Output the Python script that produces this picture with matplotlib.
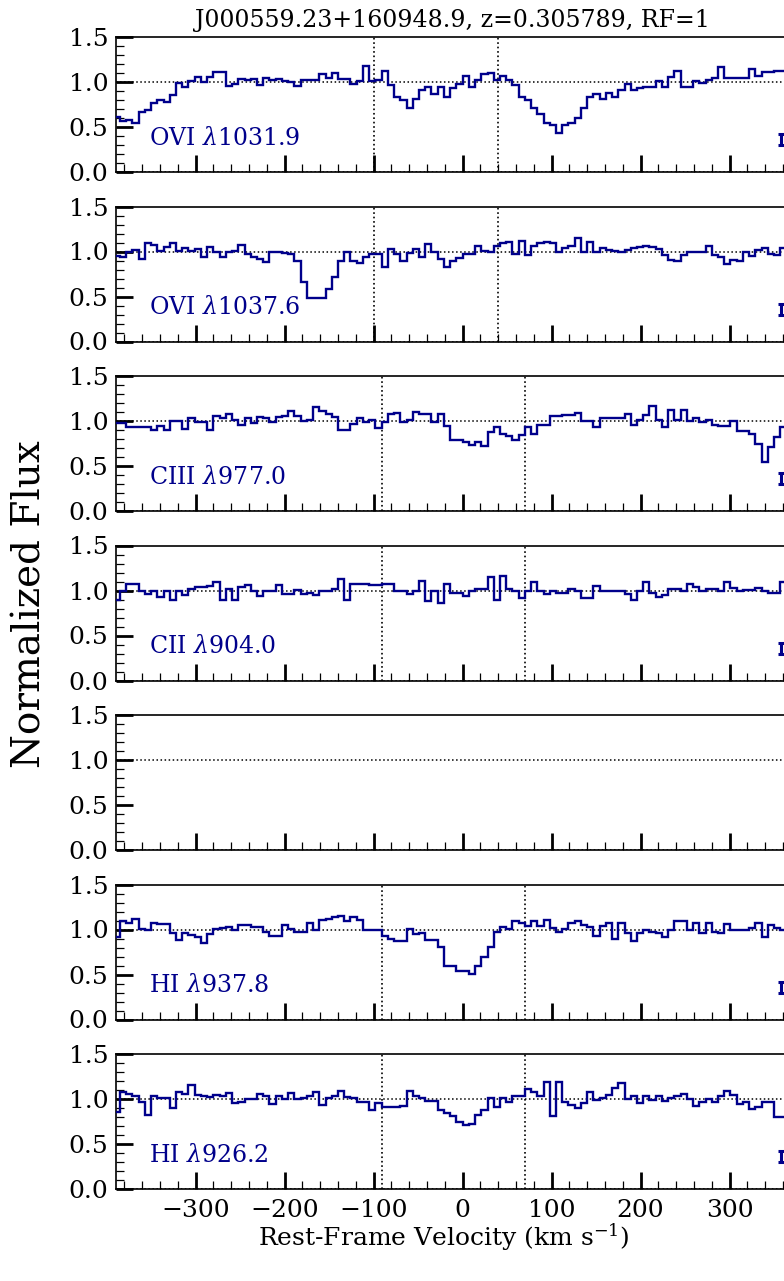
import numpy as np
import matplotlib
matplotlib.use("Agg")
import matplotlib.pyplot as plt
from matplotlib.ticker import MultipleLocator

plt.rcParams['font.family'] = ['DejaVu Serif']
plt.rcParams['mathtext.fontset'] = 'dejavuserif'

title = "J000559.23+160948.9, z=0.305789, RF=1"

# velocity bin edges (km/s) shared by all transitions
vel_edges = np.arange(-392.0, 372.0, 7.0)

flux_ovi1031 = [
    0.61, 0.57, 0.58, 0.54, 0.67, 0.69, 0.77, 0.80, 0.78, 0.86,
    0.99, 0.94, 1.01, 1.06, 1.00, 1.06, 1.11, 1.11, 0.96, 0.98,
    1.03, 1.02, 1.03, 0.97, 1.04, 1.02, 1.03, 1.01, 1.00, 0.96,
    1.02, 1.02, 1.02, 1.09, 1.05, 1.10, 1.03, 1.03, 0.98, 1.01,
    1.18, 1.01, 1.02, 1.12, 0.97, 0.83, 0.80, 0.71, 0.81, 0.91,
    0.94, 0.87, 0.94, 0.83, 0.93, 0.98, 1.07, 0.94, 1.02, 1.09,
    1.10, 1.02, 1.07, 1.02, 0.97, 0.83, 0.80, 0.71, 0.64, 0.54,
    0.52, 0.43, 0.52, 0.54, 0.60, 0.71, 0.83, 0.87, 0.81, 0.88,
    0.83, 0.91, 0.98, 0.91, 0.93, 0.94, 0.95, 1.01, 0.95, 1.06,
    1.12, 0.95, 0.95, 1.01, 0.99, 1.02, 1.05, 1.17, 1.04, 1.04,
    1.05, 1.05, 1.14, 1.07, 1.11, 1.11, 1.12, 1.12, 1.11,
]

flux_ovi1037 = [
    0.95, 0.94, 0.99, 1.02, 0.92, 1.09, 1.07, 1.01, 1.05, 1.10,
    1.01, 1.04, 1.01, 1.03, 0.94, 1.05, 1.00, 0.94, 1.00, 1.01,
    1.07, 0.97, 0.94, 0.92, 0.88, 0.99, 1.00, 0.98, 0.97, 0.90,
    0.66, 0.48, 0.48, 0.48, 0.58, 0.72, 0.89, 0.99, 0.89, 0.87,
    0.94, 0.97, 0.97, 0.83, 1.03, 0.97, 0.89, 0.98, 1.03, 0.94,
    1.08, 1.00, 0.92, 0.83, 0.89, 0.93, 0.97, 0.97, 1.06, 1.01,
    0.99, 1.06, 1.09, 1.11, 0.97, 1.12, 0.96, 1.06, 1.09, 1.11,
    1.10, 0.99, 1.04, 1.06, 1.15, 1.00, 1.11, 0.99, 1.04, 1.02,
    1.01, 0.99, 1.02, 1.04, 1.05, 1.06, 1.05, 1.03, 0.96, 0.91,
    0.89, 0.96, 1.00, 1.00, 0.99, 1.06, 0.96, 0.94, 0.86, 0.91,
    0.89, 1.00, 0.95, 1.02, 1.04, 0.97, 0.96, 1.04, 1.04,
]

flux_ciii977 = [
    0.98, 0.98, 0.93, 0.93, 0.93, 0.93, 0.90, 0.94, 0.90, 1.00,
    1.00, 0.91, 1.03, 0.99, 0.99, 0.90, 1.06, 1.03, 1.08, 1.01,
    0.96, 1.03, 0.98, 1.05, 1.03, 0.99, 1.04, 1.06, 1.11, 1.06,
    1.00, 1.01, 1.16, 1.11, 1.08, 1.04, 0.90, 0.90, 0.97, 1.03,
    0.99, 1.01, 0.92, 0.99, 1.08, 1.09, 0.99, 1.01, 1.10, 1.08,
    1.08, 0.99, 1.08, 0.94, 0.79, 0.79, 0.77, 0.73, 0.77, 0.72,
    0.88, 0.93, 0.86, 0.83, 0.79, 0.84, 0.93, 0.86, 0.96, 0.96,
    1.06, 1.06, 1.07, 1.07, 1.09, 1.00, 1.00, 0.93, 1.03, 1.03,
    1.03, 1.03, 1.08, 0.96, 1.01, 1.07, 1.17, 1.01, 0.93, 1.12,
    1.01, 1.12, 1.00, 1.03, 0.99, 1.01, 0.96, 0.94, 0.94, 1.00,
    0.89, 0.89, 0.86, 0.75, 0.55, 0.71, 0.82, 0.93, 0.95,
]

flux_cii904 = [
    0.90, 1.00, 1.07, 1.07, 1.00, 0.96, 0.99, 0.93, 1.00, 0.89,
    1.00, 0.95, 1.02, 1.04, 1.04, 1.05, 1.10, 0.90, 1.02, 0.90,
    1.04, 1.06, 1.00, 0.94, 0.99, 0.99, 1.06, 0.96, 0.96, 1.01,
    0.96, 0.97, 0.95, 1.00, 1.00, 1.02, 1.13, 0.90, 1.07, 1.07,
    1.07, 1.06, 1.06, 1.07, 1.07, 1.00, 1.00, 0.96, 0.99, 1.11,
    0.88, 0.99, 0.86, 1.07, 0.97, 0.97, 0.94, 1.00, 1.02, 1.02,
    1.15, 0.90, 1.16, 1.02, 0.99, 0.92, 0.99, 1.09, 0.99, 0.96,
    1.00, 0.97, 0.97, 1.02, 1.00, 0.92, 0.92, 1.05, 0.99, 0.99,
    0.99, 0.99, 0.96, 0.89, 1.00, 1.10, 0.97, 0.93, 0.95, 1.02,
    1.02, 0.99, 1.07, 1.04, 0.99, 1.02, 1.02, 0.99, 1.10, 1.03,
    0.99, 1.01, 1.01, 1.03, 1.00, 0.97, 0.97, 1.10, 1.02,
]

flux_hi937 = [
    0.92, 1.10, 1.07, 1.12, 1.01, 1.00, 1.07, 1.06, 1.06, 0.96,
    0.88, 0.96, 0.94, 0.92, 0.85, 0.95, 1.01, 1.02, 1.03, 0.99,
    1.05, 1.05, 1.03, 1.03, 0.97, 0.93, 0.93, 1.05, 1.01, 0.97,
    0.97, 1.07, 0.99, 1.11, 1.12, 1.14, 1.15, 1.10, 1.14, 1.11,
    0.99, 1.00, 1.00, 0.93, 0.90, 0.87, 0.87, 1.01, 0.95, 0.96,
    0.88, 0.88, 0.81, 0.59, 0.59, 0.54, 0.54, 0.51, 0.59, 0.70,
    0.81, 0.97, 1.03, 1.01, 1.10, 1.07, 1.04, 1.10, 1.04, 1.11,
    1.02, 0.97, 1.01, 1.07, 1.10, 1.05, 1.03, 0.93, 1.04, 1.07,
    0.90, 1.07, 0.96, 0.87, 0.96, 0.99, 0.97, 0.96, 0.92, 0.99,
    1.09, 1.09, 1.00, 1.07, 0.96, 1.07, 0.97, 0.96, 1.06, 1.00,
    1.00, 0.99, 1.02, 1.07, 0.92, 1.05, 1.02, 1.00, 1.00,
]

flux_hi926 = [
    0.86, 1.08, 1.06, 1.03, 0.97, 0.82, 1.03, 1.01, 1.01, 0.90,
    1.08, 1.06, 1.16, 1.04, 1.03, 1.02, 1.04, 1.03, 1.07, 0.96,
    0.97, 1.00, 1.00, 1.06, 1.03, 0.94, 1.03, 1.00, 1.07, 1.00,
    1.01, 1.03, 1.08, 0.93, 1.01, 1.03, 1.09, 1.02, 1.01, 0.97,
    0.97, 0.88, 0.96, 0.91, 0.91, 0.91, 0.92, 1.09, 1.03, 1.01,
    0.98, 0.98, 0.88, 0.84, 0.81, 0.75, 0.71, 0.72, 0.82, 0.88,
    1.01, 0.91, 1.01, 0.97, 1.03, 1.03, 1.11, 1.08, 1.03, 1.19,
    0.81, 1.19, 0.97, 0.93, 0.90, 0.96, 1.08, 0.99, 1.01, 1.04,
    1.12, 1.18, 1.00, 1.03, 0.96, 1.03, 0.99, 1.03, 0.98, 1.01,
    1.03, 1.06, 1.00, 0.92, 0.97, 1.00, 0.97, 1.03, 1.09, 1.04,
    0.95, 0.97, 0.89, 0.91, 0.97, 0.97, 0.80, 0.80, 0.85,
]

panel_labels = [
    r"OVI $\lambda$1031.9",
    r"OVI $\lambda$1037.6",
    r"CIII $\lambda$977.0",
    r"CII $\lambda$904.0",
    None,
    r"HI $\lambda$937.8",
    r"HI $\lambda$926.2",
]
panel_flux = [flux_ovi1031, flux_ovi1037, flux_ciii977, flux_cii904,
              None, flux_hi937, flux_hi926]
# integration window of the absorber in each transition (km/s)
window_bounds = [(-100, 40), (-100, 40), (-90, 70), (-90, 70),
                 None, (-90, 70), (-90, 70)]

# representative flux uncertainty marker
err_vel, err_flux, err_size = 358, 0.36, 0.06

line_color = '#00008B'

W, H = 784, 1281
fig = plt.figure(figsize=(W / 100, H / 100), dpi=100)

left_px, width_px, height_px = 115.5, 674.6, 135.0
tops_px = [37, 206.5, 376, 545.5, 715, 884.5, 1054]

axes = []
for i, top in enumerate(tops_px):
    ax = fig.add_axes([left_px / W, 1 - (top + height_px) / H,
                       width_px / W, height_px / H])
    axes.append(ax)
    ax.set_xlim(-390, 368)
    ax.set_ylim(0, 1.5)

    ax.axhline(1.0, color='k', ls=':', lw=1.1, zorder=1)
    ax.axhline(0.0, color='k', ls=':', lw=1.1, zorder=1)

    if window_bounds[i] is not None:
        for vb in window_bounds[i]:
            ax.axvline(vb, color='k', ls=':', lw=1.2, zorder=1)

    if panel_flux[i] is not None:
        ax.stairs(panel_flux[i], vel_edges, baseline=None,
                  color=line_color, lw=1.7, zorder=3)
        ax.errorbar(err_vel, err_flux, yerr=err_size, fmt='none',
                    ecolor=line_color, elinewidth=2.2, capsize=2.5,
                    capthick=2.2, zorder=3)

    if panel_labels[i] is not None:
        ax.text(0.05, 0.25, panel_labels[i], transform=ax.transAxes,
                fontsize=17, color=line_color, ha='left', va='center')

    ax.xaxis.set_major_locator(MultipleLocator(100))
    ax.xaxis.set_minor_locator(MultipleLocator(20))
    ax.yaxis.set_major_locator(MultipleLocator(0.5))
    ax.yaxis.set_minor_locator(MultipleLocator(0.1))
    ax.tick_params(which='both', direction='in', top=False, right=False)
    ax.tick_params(which='major', length=12, width=2.0, labelsize=18, pad=5)
    ax.tick_params(which='minor', length=6, width=0.9)
    ax.tick_params(axis='x', which='major', pad=7)
    for sp in ax.spines.values():
        sp.set_linewidth(1.2)
    if i < len(tops_px) - 1:
        ax.tick_params(labelbottom=False)

axes[0].set_title(title, fontsize=17, pad=7)

fig.text(30 / W, 1 - 604 / H, "Normalized Flux", rotation=90,
         ha='center', va='center', fontsize=28)
fig.text(443.5 / W, 1 - 1237 / H, r"Rest-Frame Velocity (km s$^{-1}$)",
         ha='center', va='center', fontsize=18)

fig.savefig("out.png", dpi=100)
